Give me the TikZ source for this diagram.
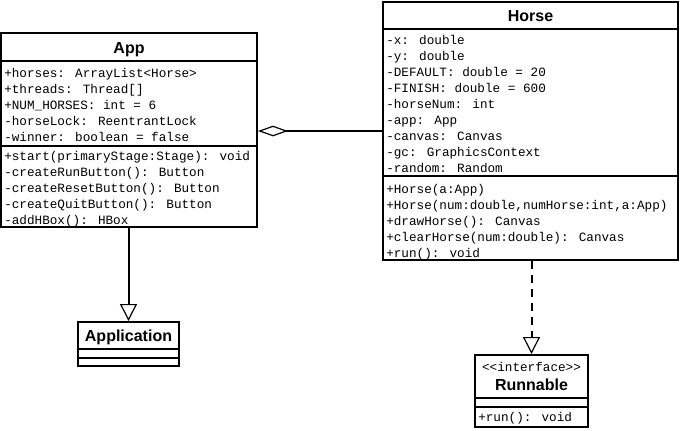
\documentclass[tikz,border=0pt]{standalone}
\usepackage{fontspec}
\setmainfont{Liberation Sans}
\newfontfamily\monof{Liberation Mono}
\usetikzlibrary{arrows.meta,fit}
\begin{document}
\begin{tikzpicture}[x=0.75pt,y=-0.75pt,
  classbox/.style={draw=black,line width=1.5pt,inner sep=0pt,fill=white},
  sepline/.style={draw=black,line width=1.5pt},
  titletext/.style={font=\bfseries\fontsize{12}{14}\selectfont,inner sep=0pt,anchor=base},
  membertext/.style={font=\monof\fontsize{9.5}{12}\selectfont,inner sep=0pt,anchor=base west},
  genline/.style={line width=1.5pt,-{Triangle[open,fill=white,length=12.75pt,width=12.75pt,line width=0.9pt]}},
  realline/.style={line width=1.5pt,dash pattern=on 6pt off 4.5pt,-{Triangle[open,fill=white,length=12.75pt,width=12.75pt,line width=0.9pt]}},
  aggline/.style={line width=1.5pt,-{Diamond[open,fill=white,length=22.5pt,width=8pt,line width=0.9pt]}}
]
\fill[white] (0,0) rectangle (680,430);
\useasboundingbox (0,0) rectangle (680,430);

% ---------- App ----------
\node[classbox,fit={(1,33)(257,227)}] (App) {};
\node[titletext] (apptitle) at (129,53) {App};
\draw[sepline] (App.west |- 0,61) -- (App.east |- 0,61);
\draw[sepline] (App.west |- 0,146) -- (App.east |- 0,146);
\foreach \t [count=\i from 0] in {{+horses: ArrayList<Horse>},{+threads: Thread[]},{+NUM\_HORSES: int = 6},{-horseLock: ReentrantLock},{-winner: boolean = false}}
  \node[membertext] (appattr\i) at (4,77+16*\i) {\t};
\foreach \t [count=\i from 0] in {{+start(primaryStage:Stage): void},{-createRunButton(): Button},{-createResetButton(): Button},{-createQuitButton(): Button},{-addHBox(): HBox}}
  \node[membertext] (appop\i) at (4,160+16*\i) {\t};

% ---------- Horse ----------
\node[classbox,fit={(383,2)(678,260)}] (Horse) {};
\node[titletext] (horsetitle) at (530.5,21.5) {Horse};
\draw[sepline] (Horse.west |- 0,29) -- (Horse.east |- 0,29);
\draw[sepline] (Horse.west |- 0,176) -- (Horse.east |- 0,176);
\foreach \t [count=\i from 0] in {{-x: double},{-y: double},{-DEFAULT: double = 20},{-FINISH: double = 600},{-horseNum: int},{-app: App},{-canvas: Canvas},{-gc: GraphicsContext},{-random: Random}}
  \node[membertext] (horseattr\i) at (386,44+16*\i) {\t};
\foreach \t [count=\i from 0] in {{+Horse(a:App)},{+Horse(num:double,numHorse:int,a:App)},{+drawHorse(): Canvas},{+clearHorse(num:double): Canvas},{+run(): void}}
  \node[membertext] (horseop\i) at (386,193+16*\i) {\t};

% ---------- Application ----------
\node[classbox,fit={(78,322)(179,366)}] (Application) {};
\node[titletext] (applicationtitle) at (128.5,341.5) {Application};
\draw[sepline] (Application.west |- 0,349) -- (Application.east |- 0,349);
\draw[sepline] (Application.west |- 0,357.5) -- (Application.east |- 0,357.5);

% ---------- Runnable ----------
\node[classbox,fit={(475,355)(588,427)}] (Runnable) {};
\node[membertext,anchor=base] (stereo) at (531.5,371.5) {<<interface>>};
\node[titletext] (runnabletitle) at (531.5,390) {Runnable};
\draw[sepline] (Runnable.west |- 0,398) -- (Runnable.east |- 0,398);
\draw[sepline] (Runnable.west |- 0,406.5) -- (Runnable.east |- 0,406.5);
\node[membertext] (runop0) at (478,421.5) {+run(): void};

% ---------- connectors ----------
\coordinate (agg) at (257,131);
\draw[aggline] (Horse.west |- agg) -- (App.east |- agg);
\draw[genline] (App.south -| Application.north) -- (Application.north);
\draw[realline] (Horse.south -| Runnable.north) -- (Runnable.north);
\end{tikzpicture}
\end{document}
